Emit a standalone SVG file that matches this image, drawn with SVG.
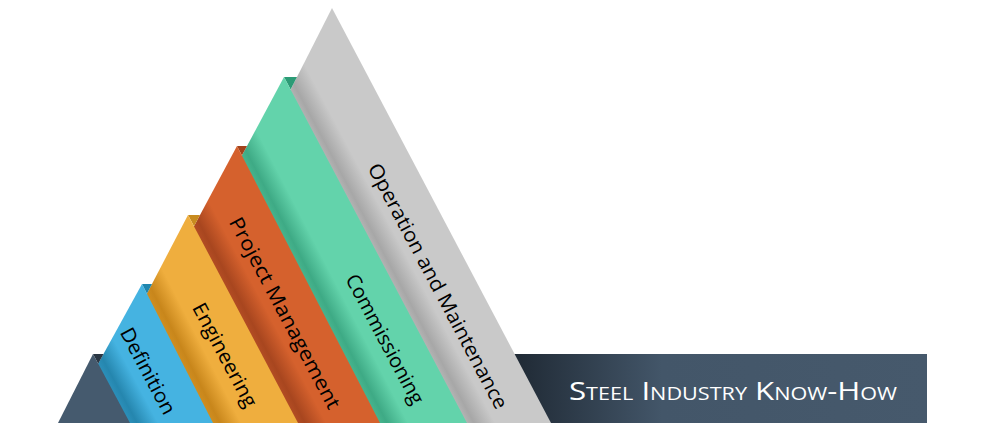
<svg xmlns="http://www.w3.org/2000/svg" width="983" height="439" viewBox="0 0 983 439">
<style>
.lbl{font-family:"Open Sans","Liberation Sans",sans-serif;font-size:20px;fill:#000;text-anchor:middle}
.title{font-family:"Open Sans","Liberation Sans",sans-serif;font-size:26px;fill:#fff;text-anchor:middle;font-variant:small-caps}
</style>
<defs>
<linearGradient id="gBox" gradientUnits="userSpaceOnUse" x1="513" y1="0" x2="927" y2="0">
<stop offset="0" stop-color="#1f2934"/><stop offset="0.36" stop-color="#435669"/><stop offset="1" stop-color="#46596c"/>
</linearGradient>
<linearGradient id="gGray" gradientUnits="userSpaceOnUse" x1="467" y1="423" x2="489" y2="411.3">
<stop offset="0" stop-color="#b3b3b3"/><stop offset="0.25" stop-color="#a7a7a7"/><stop offset="1" stop-color="#c9c9c9"/>
</linearGradient>
<linearGradient id="gGreen" gradientUnits="userSpaceOnUse" x1="380" y1="423" x2="402.2" y2="411.5">
<stop offset="0" stop-color="#46b48d"/><stop offset="0.25" stop-color="#3eaa85"/><stop offset="1" stop-color="#63d3ab"/>
</linearGradient>
<linearGradient id="gOrange" gradientUnits="userSpaceOnUse" x1="298" y1="423" x2="320.1" y2="411.3">
<stop offset="0" stop-color="#b24c23"/><stop offset="0.25" stop-color="#a8461f"/><stop offset="1" stop-color="#d5612d"/>
</linearGradient>
<linearGradient id="gYellow" gradientUnits="userSpaceOnUse" x1="213" y1="423" x2="235.3" y2="411.6">
<stop offset="0" stop-color="#cf8d20"/><stop offset="0.25" stop-color="#c8861b"/><stop offset="1" stop-color="#efae3e"/>
</linearGradient>
<linearGradient id="gBlue" gradientUnits="userSpaceOnUse" x1="130" y1="423" x2="152" y2="411.2">
<stop offset="0" stop-color="#2b8fb9"/><stop offset="0.25" stop-color="#2586ae"/><stop offset="1" stop-color="#45b3e1"/>
</linearGradient>
</defs>

<g id="title-box">
<rect x="513" y="354" width="414" height="69" fill="url(#gBox)"/>
<text class="title" x="733" y="400" textLength="328" lengthAdjust="spacingAndGlyphs">Steel Industry Know-How</text>
</g>

<g id="operation-maintenance">
<polygon points="332,8 551,423 121.6,423" fill="url(#gGray)"/>
<text class="lbl" transform="translate(438,286) rotate(62)" y="7" textLength="275" lengthAdjust="spacingAndGlyphs">Operation and Maintenance</text>
</g>

<g id="commissioning">
<polygon points="284,77 297,77 290.6,89.6" fill="#2c9b76"/>
<polygon points="284,77 467,423 98.5,423" fill="url(#gGreen)"/>
<text class="lbl" transform="translate(385,339) rotate(62)" y="7" textLength="144" lengthAdjust="spacingAndGlyphs">Commissioning</text>
</g>

<g id="project-management">
<polygon points="237,146 247,146 241.9,155.5" fill="#a2421b"/>
<polygon points="237,146 380,423 88.5,423" fill="url(#gOrange)"/>
<text class="lbl" transform="translate(285,313) rotate(62)" y="7" textLength="214" lengthAdjust="spacingAndGlyphs">Project Management</text>
</g>

<g id="engineering">
<polygon points="188,215 200,215 194,226.3" fill="#c88b1f"/>
<polygon points="188,215 298,423 79.4,423" fill="url(#gYellow)"/>
<text class="lbl" transform="translate(225,355) rotate(62)" y="7" textLength="115" lengthAdjust="spacingAndGlyphs">Engineering</text>
</g>

<g id="definition">
<polygon points="142,284 152,284 146.9,293.7" fill="#1f86ae"/>
<polygon points="142,284 213,423 65.5,423" fill="url(#gBlue)"/>
<text class="lbl" transform="translate(148,371) rotate(62)" y="7" textLength="95" lengthAdjust="spacingAndGlyphs">Definition</text>
</g>

<g id="base">
<polygon points="93,354 103.5,354 98.2,363.7" fill="#2a3643"/>
<polygon points="93,354 130,423 58,423" fill="#455a6e"/>
</g>
</svg>
